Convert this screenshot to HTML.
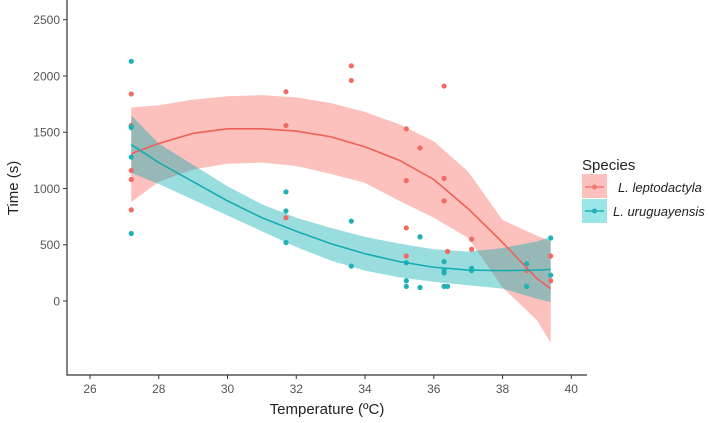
<!DOCTYPE html>
<html><head><meta charset="utf-8"><style>
body{margin:0;background:#fff}
svg{font-family:"Liberation Sans",sans-serif}
</style></head><body>
<svg id="chart" width="709" height="418" xmlns="http://www.w3.org/2000/svg">
<g id="plot"></g>
<g id="axes"></g>
<g>
<text x="582" y="170" font-size="15" fill="#222">Species</text>
<g>
<rect x="582" y="174" width="25" height="24" fill="#f8766d" fill-opacity="0.45"/>
<line x1="585" y1="187" x2="604" y2="187" stroke="#f8766d" stroke-width="1.5"/><circle cx="594.5" cy="187" r="2.5" fill="#f8766d"/>
<text x="618" y="192" font-size="13" font-style="italic" fill="#222">L.  leptodactyla</text></g>
<g>
<rect x="582" y="199" width="25" height="24" fill="#00bfc4" fill-opacity="0.4"/>
<line x1="585" y1="211" x2="604" y2="211" stroke="#1fb1b6" stroke-width="1.5"/><circle cx="594.5" cy="211" r="2.5" fill="#1fb1b6"/>
<text x="613" y="216" font-size="13" font-style="italic" fill="#222">L. uruguayensis</text></g>
</g>
</svg>
<script>
const fitX=[27.2,28,29,30,31,32,33,34,35,36,37,38,39,39.4];
const redFit=[1310,1400,1490,1530,1530,1510,1460,1370,1250,1080,820,520,200,110];
const redLo=[880,1060,1170,1220,1230,1200,1130,1050,890,740,560,120,-170,-370];
const redHi=[1720,1740,1790,1820,1830,1810,1760,1680,1570,1420,1150,720,580,530];
const blueFit=[1390,1230,1060,890,740,620,510,420,350,300,275,270,275,280];
const blueLo=[1140,1040,900,760,620,480,360,270,210,170,140,110,20,-10];
const blueHi=[1650,1400,1210,1020,860,740,650,570,510,460,440,470,530,570];
const redPtsX=[27.2,27.2,27.2,27.2,27.2,31.7,31.7,31.7,33.6,33.6,35.2,35.2,35.2,35.2,35.6,35.6,36.3,36.3,36.3,36.4,37.1,37.1,38.7,39.4,39.4];
const redPtsY=[1840,1560,1160,1080,810,1860,1560,740,2090,1960,1530,1070,650,400,1360,570,1910,1090,890,440,550,460,270,400,180];
const bluePtsX=[27.2,27.2,27.2,27.2,27.2,31.7,31.7,31.7,33.6,33.6,35.2,35.2,35.2,35.6,35.6,36.3,36.3,36.3,36.3,36.4,37.1,37.1,38.7,38.7,39.4,39.4];
const bluePtsY=[2130,1550,1540,1280,600,970,800,520,710,310,340,180,130,570,120,350,270,250,130,130,290,270,330,130,560,230];
const xTicks=[26,28,30,32,34,36,38,40];
const yTicks=[0,500,1000,1500,2000,2500];
const X=v=>90+(v-26)*34.38, Y=v=>301-v*0.11252;
const NS='http://www.w3.org/2000/svg';
const plot=document.getElementById('plot'), axes=document.getElementById('axes');
function mk(tag,attrs,parent){const e=document.createElementNS(NS,tag);for(const k in attrs)e.setAttribute(k,attrs[k]);parent.appendChild(e);return e;}
function band(lo,hi,color,op,name){
 let d='M'+fitX.map((x,i)=>X(x)+','+Y(hi[i])).join('L');
 d+='L'+fitX.map((x,i)=>X(x)+','+Y(lo[i])).reverse().join('L')+'Z';
 const e=mk('path',{d:d,fill:color,'fill-opacity':op},plot);
 
 
}
function line(v,color,name){
 const e=mk('path',{d:'M'+fitX.map((x,i)=>X(x)+','+Y(v[i])).join('L'),fill:'none',stroke:color,'stroke-width':1.6},plot);
 
 
}
function pts(xs,ys,color,name){
 xs.forEach((x,i)=>{const c=mk('circle',{cx:X(x),cy:Y(ys[i]),r:2.6,fill:color},plot);
 
 });
}
band(redLo,redHi,'#f8766d',0.45,'ci-band-leptodactyla');
band(blueLo,blueHi,'#00a9ae',0.4,'ci-band-uruguayensis');
pts(redPtsX,redPtsY,'#f26b62','point-leptodactyla');
pts(bluePtsX,bluePtsY,'#1fb1b6','point-uruguayensis');
line(redFit,'#ee5f56','fit-line-leptodactyla');
line(blueFit,'#16adb2','fit-line-uruguayensis');
mk('line',{x1:67,y1:0,x2:67,y2:375.5,stroke:'#333','stroke-width':1.2},axes);
mk('line',{x1:66.5,y1:375,x2:587,y2:375,stroke:'#333','stroke-width':1.2},axes);
xTicks.forEach(t=>{mk('line',{x1:X(t),y1:375,x2:X(t),y2:379,stroke:'#333'},axes);
 const tx=mk('text',{x:X(t),y:393,'font-size':12,fill:'#555','text-anchor':'middle'},axes);tx.textContent=t;
 
 });
yTicks.forEach(t=>{mk('line',{x1:63,y1:Y(t),x2:67,y2:Y(t),stroke:'#333'},axes);
 const tx=mk('text',{x:60,y:Y(t)+4.5,'font-size':12,fill:'#555','text-anchor':'end'},axes);tx.textContent=t;
 
 });
const xt=mk('text',{x:327,y:414,'font-size':15,fill:'#222','text-anchor':'middle'},axes);xt.textContent='Temperature (ºC)';


const yt=mk('text',{x:0,y:0,'font-size':15,fill:'#222','text-anchor':'middle',transform:'translate(18,188) rotate(-90)'},axes);yt.textContent='Time (s)';


</script>
</body></html>
